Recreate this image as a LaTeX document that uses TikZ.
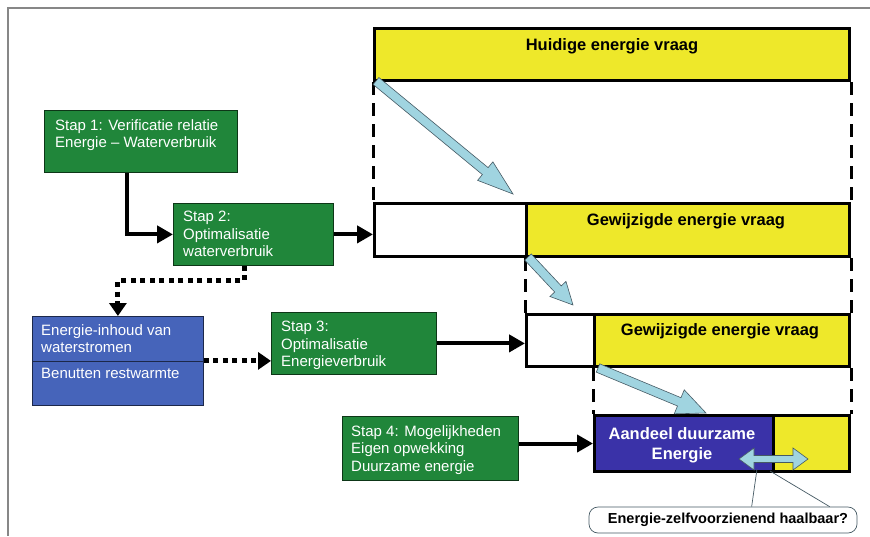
\documentclass[tikz,border=0pt]{standalone}
\usepackage{fontspec}
\setmainfont{Liberation Sans}
\usetikzlibrary{arrows.meta,calc}
\definecolor{stapgreen}{RGB}{32,134,58}
\definecolor{wblue}{RGB}{70,100,186}
\definecolor{dblue}{RGB}{58,50,168}
\definecolor{eyellow}{RGB}{238,232,42}
\definecolor{lblue}{RGB}{160,212,224}
\definecolor{lbline}{RGB}{70,90,100}
\definecolor{framegray}{RGB}{135,135,135}
\tikzset{
  greenbox/.style={draw=black!60!stapgreen, line width=0.8pt, fill=stapgreen, anchor=north west, inner sep=0pt},
  bluebox/.style={draw=black!60!wblue, line width=0.8pt, fill=wblue, anchor=north west, inner sep=0pt},
  staptext/.style={text=white, anchor=north west, inner sep=0pt, align=left, font=\fontsize{15}{17.5}\selectfont},
  demand/.style={draw=black, line width=3pt, anchor=north west, inner sep=0pt},
  demandtext/.style={font=\fontsize{16.5}{19}\selectfont\bfseries, inner sep=0pt},
  blk/.style={line width=4pt, -{Triangle[length=16pt,width=17pt]}},
  dotted arrow/.style={line width=5pt, dash pattern=on 5pt off 4.5pt, -{Triangle[length=13pt,width=17pt]}},
  dashv/.style={line width=3pt, dash pattern=on 13pt off 8pt},
  lbarrowstyle/.style={fill=lblue, draw=lbline, line width=0.6pt, line join=miter},
}
\newcommand\lbarrow[4]{%
  \coordinate (hb) at ($(#2)!#3pt!(#1)$);
  \draw[lbarrowstyle]
    ($(#1)!4.5pt!90:(#2)$) -- ($(hb)!4.5pt!-90:(#1)$) -- ($(hb)!#4pt!-90:(#1)$) -- (#2)
    -- ($(hb)!#4pt!90:(#1)$) -- ($(hb)!4.5pt!90:(#1)$) -- ($(#1)!4.5pt!-90:(#2)$) -- cycle;
}
\begin{document}
\begin{tikzpicture}[x=1pt,y=-1pt]
\useasboundingbox (0,0) rectangle (870,536);
\fill[white] (0,0) rectangle (870,536);
% frame
\draw[framegray, line width=1.5pt] (870,8) -- (8,8) -- (8,536);

% demand bars
\node[demand, fill=eyellow, minimum width=475, minimum height=52] (top) at (373,27) {};
\node[demandtext] (toptext) at (612,46) {Huidige energie vraag};

\node[demand, fill=white, minimum width=152, minimum height=53] (w2) at (373,202) {};
\node[demand, fill=eyellow, minimum width=323, minimum height=53] (y2) at (525,202) {};
\node[demandtext] (y2text) at (686,221) {Gewijzigde energie vraag};

\node[demand, fill=white, minimum width=68, minimum height=52] (w3) at (525,313) {};
\node[demand, fill=eyellow, minimum width=255, minimum height=52] (y3) at (593,313) {};
\node[demandtext] (y3text) at (720,331) {Gewijzigde energie vraag};

\node[demand, fill=dblue, minimum width=179, minimum height=56] (b4) at (593,414) {};
\node[demand, fill=eyellow, minimum width=76, minimum height=56] (y4) at (772,414) {};
\node[text=white, align=center, inner sep=0pt, font=\fontsize{16.5}{20}\selectfont\bfseries] (b4text) at (682,445) {Aandeel duurzame\\Energie};

% dashed guides
\draw[dashv] (top.south west) -- (w2.north west);
\draw[dashv] (top.south east) -- (y2.north east);
\draw[dashv] (y2.south west) -- (w3.north west);
\draw[dashv] (y2.south east) -- (y3.north east);
\draw[dashv] (y3.south west) -- (b4.north west);
\draw[dashv] (y3.south east) -- (y4.north east);

% light blue block arrows
\coordinate (a1s) at (376,81);  \coordinate (a1e) at (513,194);
\coordinate (a2s) at (528,257); \coordinate (a2e) at (573,305);
\coordinate (a3s) at (598,368); \coordinate (a3e) at (706,413);
\lbarrow{a1s}{a1e}{36}{12}
\lbarrow{a2s}{a2e}{22}{11}
\lbarrow{a3s}{a3e}{29}{13}

% double arrow
\coordinate (dl) at (739,459); \coordinate (dr) at (808,459);
\draw[lbarrowstyle] (dl) -- (754,448) -- (754,455.5) -- (793,455.5) -- (793,448) -- (dr)
  -- (793,470) -- (793,462.5) -- (754,462.5) -- (754,470) -- cycle;

% green step boxes
\node[greenbox, minimum width=193, minimum height=62] (s1) at (44,110) {};
\node[staptext] (t1) at (55,119) {Stap 1: Verificatie relatie\\Energie – Waterverbruik};

\node[greenbox, minimum width=160, minimum height=62] (s2) at (173,203) {};
\node[staptext] (t2) at (183,211) {Stap 2:\\Optimalisatie\\waterverbruik};

\node[greenbox, minimum width=165, minimum height=62] (s3) at (271,312) {};
\node[staptext] (t3) at (281,321) {Stap 3:\\Optimalisatie\\Energieverbruik};

\node[greenbox, minimum width=176, minimum height=64] (s4) at (342,416) {};
\node[staptext] (t4) at (351,425) {Stap 4: Mogelijkheden\\Eigen opwekking\\Duurzame energie};

% blue water box
\node[bluebox, minimum width=171, minimum height=89] (b1) at (32,316) {};
\draw[black!60!wblue, line width=0.8pt] (b1.west) -- (b1.east);
\node[staptext] (tb1) at (41,324) {Energie-inhoud van\\waterstromen};
\node[staptext] (tb2) at (41,368) {Benutten restwarmte};

% black connectors
\draw[blk, line join=miter] ($(s1.south west)+(83,0)$) |- (s2.west);
\draw[blk] (s2.east) -- (s2.east -| w2.west);
\draw[blk] (s3.east) -- (s3.east -| w3.west);
\draw[blk] (b4.west -| s4.east) -- (b4.west);

% dotted connectors
\draw[dotted arrow] ($(s2.south west)+(71,0)$) -- ++(0,15) -| (b1.north);
\draw[dotted arrow] (b1.east) -- (b1.east -| s3.west);

% callout
\node[draw=lbline, line width=0.7pt, fill=white, rounded corners=9pt, minimum width=268, minimum height=26, inner sep=0pt, font=\fontsize{14.5}{16}\selectfont\bfseries] (cal) at (723,520) {\hspace{10pt}Energie-zelfvoorzienend haalbaar?};
\coordinate (ptip) at (757,469);
\coordinate (pr) at (770,471);
\draw[lbline, line width=0.7pt] ($(cal.north west)+(163,0)$) -- (ptip);
\draw[lbline, line width=0.7pt] (pr) -- ($(cal.north west)+(241,0)$);
\end{tikzpicture}
\end{document}
